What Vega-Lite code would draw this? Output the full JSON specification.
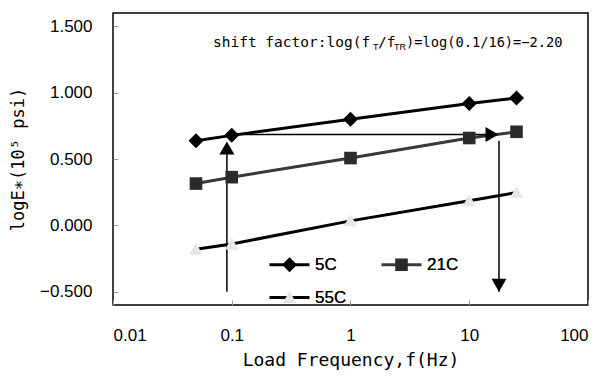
{
  "$schema": "https://vega.github.io/schema/vega-lite/v6.json",
  "width": 475,
  "height": 292,
  "autosize": {"type": "none"},
  "padding": {"left": 113, "top": 13, "right": 18, "bottom": 71},
  "background": "white",
  "config": {
    "view": {"stroke": "#000", "strokeWidth": 1.5},
    "axis": {
      "grid": false,
      "domain": false,
      "labelFont": "Liberation Sans",
      "labelFontSize": 17,
      "labelColor": "#000",
      "titleFont": "DejaVu Sans Mono",
      "titleFontSize": 17,
      "titleFontWeight": "normal",
      "titleColor": "#000",
      "tickColor": "#999",
      "tickSize": -5,
      "tickWidth": 1
    },
    "legend": {
      "orient": "none",
      "direction": "horizontal",
      "legendX": 165,
      "legendY": 240,
      "columns": 2,
      "columnPadding": 28,
      "rowPadding": 0,
      "labelFont": "Liberation Sans",
      "labelFontSize": 17,
      "labelColor": "#000",
      "labelOffset": 14,
      "symbolSize": 400,
      "symbolStrokeWidth": 3,
      "padding": 0
    }
  },
  "datasets": {
    "curves": [
      {"f": 0.05, "logE": 0.637, "series": "5C"},
      {"f": 0.1, "logE": 0.678, "series": "5C"},
      {"f": 1, "logE": 0.8, "series": "5C"},
      {"f": 10, "logE": 0.918, "series": "5C"},
      {"f": 25, "logE": 0.959, "series": "5C"},
      {"f": 0.05, "logE": 0.315, "series": "21C"},
      {"f": 0.1, "logE": 0.363, "series": "21C"},
      {"f": 1, "logE": 0.507, "series": "21C"},
      {"f": 10, "logE": 0.658, "series": "21C"},
      {"f": 25, "logE": 0.705, "series": "21C"},
      {"f": 0.05, "logE": -0.18, "series": "55C"},
      {"f": 0.1, "logE": -0.14, "series": "55C"},
      {"f": 1, "logE": 0.034, "series": "55C"},
      {"f": 10, "logE": 0.185, "series": "55C"},
      {"f": 25, "logE": 0.247, "series": "55C"}
    ]
  },
  "layer": [
    {
      "data": {"name": "curves"},
      "mark": {"type": "line", "strokeWidth": 3},
      "encoding": {
        "x": {
          "field": "f", "type": "quantitative",
          "scale": {"type": "log", "domain": [0.01, 100]},
          "axis": {"values": [0.01, 0.1, 1, 10, 100], "format": "~g", "labelPadding": 27, "title": "Load Frequency,f(Hz)", "titlePadding": 8, "titleFontSize": 18}
        },
        "y": {
          "field": "logE", "type": "quantitative",
          "scale": {"domain": [-0.5, 1.5]},
          "axis": {"values": [-0.5, 0, 0.5, 1, 1.5], "format": ".3f", "labelPadding": 26, "title": "logE∗(10⁵ psi)", "titlePadding": 12}
        },
        "stroke": {
          "field": "series", "type": "nominal",
          "scale": {"domain": ["5C", "21C", "55C"], "range": ["#000000", "#383838", "#000000"]},
          "legend": {"title": null, "symbolType": "M0,-1M0,1M-2,0H2", "symbolFillColor": "transparent", "symbolStrokeWidth": 3, "symbolSize": 400}
        },
        "order": {"field": "f", "type": "quantitative"}
      }
    },
    {
      "data": {"values": [{"f": 0.091, "y1": -0.5, "y2": 0.6}, {"f": 17.8, "y1": -0.5, "y2": 0.637}]},
      "mark": {"type": "rule", "color": "#000", "strokeWidth": 1.5},
      "encoding": {
        "x": {"field": "f", "type": "quantitative"},
        "y": {"field": "y1", "type": "quantitative"},
        "y2": {"field": "y2"}
      }
    },
    {
      "data": {"values": [{"f1": 0.1, "f2": 15.5, "v": 0.685}]},
      "mark": {"type": "rule", "color": "#000", "strokeWidth": 1.5},
      "encoding": {
        "x": {"field": "f1", "type": "quantitative"},
        "x2": {"field": "f2"},
        "y": {"field": "v", "type": "quantitative"}
      }
    },
    {
      "data": {"name": "curves"},
      "mark": {"type": "point", "filled": true, "size": 400, "opacity": 1, "strokeWidth": 0},
      "encoding": {
        "x": {"field": "f", "type": "quantitative"},
        "y": {"field": "logE", "type": "quantitative"},
        "fill": {
          "field": "series", "type": "nominal",
          "scale": {"domain": ["21C", "5C", "55C"], "range": ["#2b2b2b", "#000000", "#e6e6e6"]},
          "legend": {"title": null, "values": ["5C", "21C", "55C"], "symbolStrokeWidth": 3, "symbolStrokeColor": "transparent", "symbolSize": 400, "zindex": 2}
        },
        "shape": {
          "field": "series", "type": "nominal",
          "scale": {"domain": ["21C", "5C", "55C"], "range": ["M-2,0M2,0M0,-1M0,1M-0.63,-0.63H0.63V0.63H-0.63Z", "M-2,0M2,0M0,-1M0,1M0,-0.75L0.75,0L0,0.75L-0.75,0Z", "M-2,0M2,0M0,-1M0,1M0,-0.65L0.67,0.55L-0.67,0.55Z"]},
          "legend": {"title": null, "values": ["5C", "21C", "55C"], "symbolStrokeWidth": 3, "symbolStrokeColor": "transparent", "symbolSize": 400, "zindex": 2}
        }
      }
    },
    {
      "data": {"values": [{"f": 0.091, "v": 0.582}]},
      "mark": {"type": "point", "shape": "triangle-up", "filled": true, "size": 225, "color": "#000", "opacity": 1},
      "encoding": {"x": {"field": "f", "type": "quantitative"}, "y": {"field": "v", "type": "quantitative"}}
    },
    {
      "data": {"values": [{"f": 15.55, "v": 0.685}]},
      "mark": {"type": "point", "shape": "triangle-right", "filled": true, "size": 225, "color": "#000", "opacity": 1},
      "encoding": {"x": {"field": "f", "type": "quantitative"}, "y": {"field": "v", "type": "quantitative"}}
    },
    {
      "data": {"values": [{"f": 17.8, "v": -0.452}]},
      "mark": {"type": "point", "shape": "triangle-down", "filled": true, "size": 225, "color": "#000", "opacity": 1},
      "encoding": {"x": {"field": "f", "type": "quantitative"}, "y": {"field": "v", "type": "quantitative"}}
    },
    {
      "data": {"values": [{"f": 0.0695, "v": 1.3425}]},
      "mark": {"type": "text", "font": "DejaVu Sans Mono", "fontSize": 14.5, "align": "left", "baseline": "alphabetic", "color": "#000"},
      "encoding": {"x": {"field": "f", "type": "quantitative"}, "y": {"field": "v", "type": "quantitative"}, "text": {"value": "shift factor:log(f"}}
    },
    {
      "data": {"values": [{"f": 0.0695, "v": 1.3425}]},
      "mark": {"type": "text", "font": "Liberation Sans", "fontSize": 9, "align": "left", "baseline": "alphabetic", "dx": 160, "dy": 3, "color": "#000"},
      "encoding": {"x": {"field": "f", "type": "quantitative"}, "y": {"field": "v", "type": "quantitative"}, "text": {"value": "T"}}
    },
    {
      "data": {"values": [{"f": 0.0695, "v": 1.3425}]},
      "mark": {"type": "text", "font": "DejaVu Sans Mono", "fontSize": 14.5, "align": "left", "baseline": "alphabetic", "dx": 165, "color": "#000"},
      "encoding": {"x": {"field": "f", "type": "quantitative"}, "y": {"field": "v", "type": "quantitative"}, "text": {"value": "/f"}}
    },
    {
      "data": {"values": [{"f": 0.0695, "v": 1.3425}]},
      "mark": {"type": "text", "font": "Liberation Sans", "fontSize": 9, "align": "left", "baseline": "alphabetic", "dx": 181, "dy": 3, "color": "#000"},
      "encoding": {"x": {"field": "f", "type": "quantitative"}, "y": {"field": "v", "type": "quantitative"}, "text": {"value": "TR"}}
    },
    {
      "data": {"values": [{"f": 0.0695, "v": 1.3425}]},
      "mark": {"type": "text", "font": "DejaVu Sans Mono", "fontSize": 13.7, "align": "left", "baseline": "alphabetic", "dx": 193, "color": "#000"},
      "encoding": {"x": {"field": "f", "type": "quantitative"}, "y": {"field": "v", "type": "quantitative"}, "text": {"value": ")=log(0.1/16)=−2.20"}}
    }
  ]
}
